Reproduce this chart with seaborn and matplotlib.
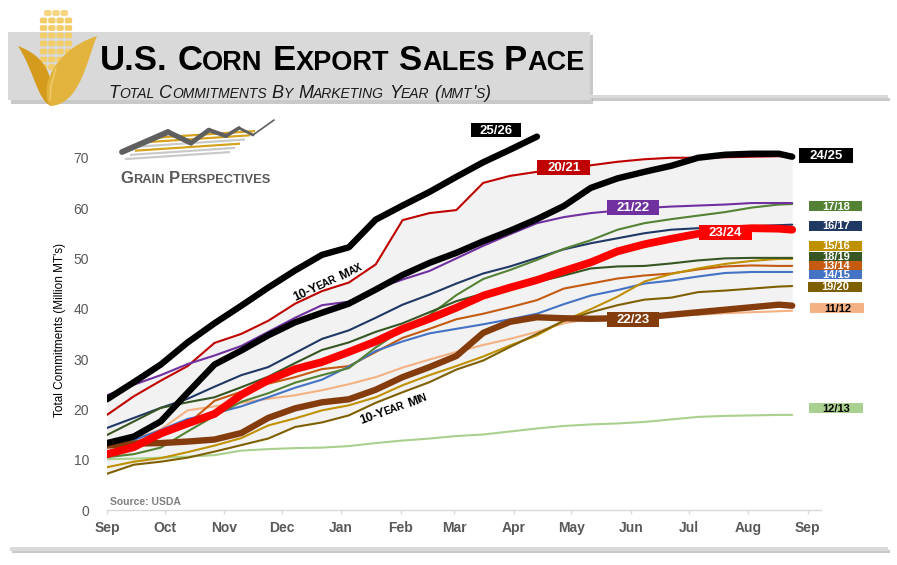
import numpy as np
import pandas as pd
import matplotlib
matplotlib.use("Agg")
import matplotlib.pyplot as plt
from matplotlib.patches import Rectangle, PathPatch, Polygon, FancyBboxPatch
from matplotlib.path import Path
import seaborn as sns

# ---------------- data ----------------
DAYS = [0, 14, 28, 42, 56, 70, 84, 98, 112, 126, 140, 154, 168, 182, 196,
        210, 224, 238, 252, 266, 280, 294, 308, 322, 336, 350, 357]
MONTH_DAYS = [0, 30, 61, 91, 122, 153, 181, 212, 242, 273, 303, 334, 365]
MONTH_LABELS = ["Sep", "Oct", "Nov", "Dec", "Jan", "Feb", "Mar", "Apr",
                "May", "Jun", "Jul", "Aug", "Sep"]
Y_TICKS = [0, 10, 20, 30, 40, 50, 60, 70]

MY_11_12 = [12.5, 14.0, 16.0, 19.8, 20.6, 21.3, 22.1, 22.8, 23.8, 25.0, 26.4, 28.3, 29.9, 31.4,
            32.8, 34.0, 35.4, 37.1, 38.0, 38.2, 38.4, 38.6, 38.8, 39.1, 39.3, 39.5, 39.6]
MY_12_13 = [10.1, 10.2, 10.4, 10.6, 10.9, 11.8, 12.1, 12.3, 12.4, 12.7, 13.3, 13.8, 14.2, 14.7,
            15.0, 15.6, 16.2, 16.7, 17.0, 17.2, 17.5, 18.0, 18.5, 18.7, 18.8, 18.9, 18.9]
MY_13_14 = [12.5, 13.5, 15.0, 17.1, 21.7, 23.5, 25.1, 26.4, 28.0, 28.6, 31.4, 34.2, 36.0, 37.9,
            39.0, 40.3, 41.7, 44.0, 45.0, 46.0, 46.6, 47.0, 47.8, 48.4, 48.6, 48.5, 48.5]
MY_14_15 = [13.5, 13.9, 15.9, 18.1, 19.2, 20.6, 22.4, 24.3, 25.9, 28.5, 31.6, 33.5, 35.1, 36.0,
            36.9, 37.9, 39.0, 40.9, 42.6, 43.7, 45.0, 45.6, 46.4, 47.1, 47.3, 47.3, 47.3]
MY_15_16 = [8.5, 9.6, 10.3, 11.5, 12.8, 14.3, 16.8, 18.2, 19.8, 20.8, 22.4, 24.8, 26.8, 28.6,
            30.5, 32.7, 34.7, 37.6, 39.9, 42.4, 45.4, 46.9, 48.0, 48.9, 49.5, 49.9, 49.9]
MY_16_17 = [16.3, 18.3, 20.3, 22.1, 24.5, 26.8, 28.4, 31.2, 34.0, 35.7, 38.2, 40.8, 42.8, 45.0,
            47.0, 48.4, 50.1, 51.8, 53.0, 54.0, 55.0, 55.7, 56.0, 56.2, 56.4, 56.6, 56.7]
MY_17_18 = [10.5, 11.1, 12.4, 15.6, 18.7, 21.5, 23.2, 25.3, 26.8, 28.2, 32.3, 35.9, 38.7, 42.7,
            45.9, 47.7, 49.7, 51.9, 53.6, 55.7, 57.0, 57.8, 58.5, 59.2, 60.1, 60.7, 60.8]
MY_18_19 = [14.9, 17.6, 20.3, 21.4, 22.4, 24.4, 26.5, 29.2, 31.8, 33.3, 35.4, 37.1, 39.3, 41.5,
            43.0, 44.1, 45.3, 46.6, 48.0, 48.4, 48.5, 49.0, 49.6, 50.0, 50.1, 50.1, 50.1]
MY_19_20 = [7.2, 9.0, 9.6, 10.4, 11.6, 12.9, 14.2, 16.5, 17.4, 18.8, 21.3, 23.4, 25.4, 27.9,
            29.7, 32.4, 35.0, 37.6, 39.3, 40.7, 41.8, 42.2, 43.3, 43.6, 44.0, 44.4, 44.5]
MY_20_21 = [18.9, 22.6, 25.7, 28.6, 33.2, 35.0, 37.6, 41.0, 43.5, 45.2, 48.8, 57.6, 59.0, 59.6,
            65.0, 66.4, 67.2, 67.8, 68.5, 69.2, 69.7, 70.0, 70.0, 70.1, 70.2, 70.3, 70.3]
MY_21_22 = [22.8, 24.9, 26.8, 29.0, 30.7, 32.6, 35.4, 38.2, 40.7, 41.4, 43.9, 45.8, 47.5, 50.0,
            52.5, 54.8, 57.0, 58.2, 59.0, 59.5, 60.0, 60.3, 60.5, 60.7, 61.0, 61.0, 61.0]
MY_22_23 = [12.8, 13.2, 13.3, 13.6, 14.0, 15.3, 18.3, 20.2, 21.4, 22.0, 23.9, 26.4, 28.4, 30.6,
            35.2, 37.4, 38.3, 38.1, 38.0, 38.1, 38.3, 38.8, 39.3, 39.8, 40.3, 40.8, 40.6]
MY_23_24 = [11.1, 12.5, 15.2, 17.2, 19.1, 22.9, 25.8, 28.0, 29.4, 31.4, 33.5, 36.0, 38.0, 40.2,
            42.6, 44.2, 45.7, 47.5, 49.2, 51.4, 52.8, 53.9, 54.9, 55.7, 56.0, 55.9, 55.7]
MY_24_25 = [13.3, 14.6, 17.6, 23.3, 28.9, 31.7, 34.7, 37.3, 39.2, 41.0, 43.8, 46.7, 49.1, 51.1,
            53.4, 55.5, 57.8, 60.4, 64.0, 65.9, 67.2, 68.4, 70.0, 70.6, 70.8, 70.8, 70.2]
MY_25_26 = [22.0, 25.4, 28.9, 33.3, 37.1, 40.6, 44.2, 47.6, 50.7, 52.2, 57.7, 60.5, 63.2, 66.2,
            69.1, 71.6, 74.2]

YEARS = ["11/12", "12/13", "13/14", "14/15", "15/16", "16/17", "17/18", "18/19",
         "19/20", "20/21", "21/22", "22/23", "23/24", "24/25", "25/26"]
VALUES = [MY_11_12, MY_12_13, MY_13_14, MY_14_15, MY_15_16, MY_16_17, MY_17_18, MY_18_19,
          MY_19_20, MY_20_21, MY_21_22, MY_22_23, MY_23_24, MY_24_25, MY_25_26]
TEN_YEAR = ["15/16", "16/17", "17/18", "18/19", "19/20", "20/21", "21/22", "22/23", "23/24", "24/25"]

# ---------------- styles ----------------
COLORS = {"11/12": "#f4b183", "12/13": "#a9d08e", "13/14": "#c55a11", "14/15": "#4472c4",
          "15/16": "#bf9000", "16/17": "#1f3864", "17/18": "#548235", "18/19": "#375623",
          "19/20": "#7f6000", "20/21": "#c00000", "21/22": "#7030a0", "22/23": "#843c0c",
          "23/24": "#ff0000", "24/25": "#000000", "25/26": "#000000"}
WIDTHS = {"22/23": 4.6, "23/24": 5.6, "24/25": 4.6, "25/26": 4.6}
ZORD = {"22/23": 4, "23/24": 4.5, "24/25": 5, "25/26": 6}

W, H = 897, 565
sns.set_theme(style="white")
plt.rcParams["font.family"] = ["Liberation Sans", "DejaVu Sans"]

fig = plt.figure(figsize=(W / 100, H / 100), dpi=100, facecolor="white")
ax = fig.add_axes([107 / W, 55 / H, 714 / W, 390 / H])
ax.set_facecolor("white")

rows = []
for name, vals in zip(YEARS, VALUES):
    for d, v in zip(DAYS, vals):
        rows.append((name, d, v))
df = pd.DataFrame(rows, columns=["year", "day", "mmt"])

# 10-year range shading
wide = df[df.year.isin(TEN_YEAR)].pivot(index="day", columns="year", values="mmt")
ax.fill_between(wide.index, wide.min(axis=1), wide.max(axis=1), color="#f2f2f2", lw=0, zorder=0.5)

for name in YEARS:
    sub = df[df.year == name]
    sns.lineplot(data=sub, x="day", y="mmt", ax=ax, color=COLORS[name],
                 linewidth=WIDTHS.get(name, 1.5), zorder=ZORD.get(name, 2),
                 solid_capstyle="round", solid_joinstyle="round", estimator=None, legend=False)

ax.set_xlim(0, 372)
ax.set_ylim(0, 77.5)
ax.set_xticks(MONTH_DAYS)
ax.set_xticklabels(MONTH_LABELS, fontsize=10, fontweight="bold", color="#595959")
ax.set_yticks(Y_TICKS)
ax.set_yticklabels([str(t) for t in Y_TICKS], fontsize=10, color="#595959")
ax.tick_params(axis="x", direction="out", length=3, width=1, color="#d9d9d9", pad=5, bottom=True)
ax.tick_params(axis="y", length=0, pad=13)
for s in ["top", "right", "left"]:
    ax.spines[s].set_visible(False)
ax.spines["bottom"].set_color("#d9d9d9")
ax.spines["bottom"].set_linewidth(1)
ax.set_xlabel("")
ax.set_ylabel("")
ax.grid(False)

# ---------------- overlay (pixel coordinates) ----------------
ov = fig.add_axes([0, 0, 1, 1])
ov.set_xlim(0, W)
ov.set_ylim(H, 0)
ov.axis("off")
ov.set_zorder(10)
renderer = fig.canvas.get_renderer()


def to_px(xd, yv):
    X, Y = ax.transData.transform((xd, yv))
    return X, H - Y


def measure(s, fs, **kw):
    t = ov.text(0, 0, s, fontsize=fs, **kw)
    w = t.get_window_extent(renderer).width
    t.remove()
    return w


def smallcaps(x, y, text, big, small, angle=0.0, center=False, **kw):
    th = np.deg2rad(angle)
    ux, uy = np.cos(th), -np.sin(th)
    words = []
    for w in text.split(" "):
        runs = []
        for ch in w:
            sm = ch.islower()
            if runs and runs[-1][1] == sm:
                runs[-1][0] += ch.upper()
            else:
                runs.append([ch.upper(), sm])
        words.append(runs)
    space = big * 100 / 72 * 0.278
    widths = [[measure(s, small if sm else big, **kw) for s, sm in runs] for runs in words]
    total = sum(sum(ws) for ws in widths) + space * (len(words) - 1)
    if center:
        x -= ux * total / 2
        y -= uy * total / 2
        off = 0.36 * big * 100 / 72
        x += np.sin(th) * off
        y += np.cos(th) * off
    cx, cy = x, y
    for i, (runs, ws) in enumerate(zip(words, widths)):
        if i:
            cx += ux * space
            cy += uy * space
        for (s, sm), w in zip(runs, ws):
            ov.text(cx, cy, s, fontsize=small if sm else big, rotation=angle,
                    rotation_mode="anchor", ha="left", va="baseline", **kw)
            cx += ux * w
            cy += uy * w
    return total


# header bar
ov.add_patch(Rectangle((11, 35), 582, 68.5, fc="#a6a6a6", ec="none", alpha=0.6))
ov.add_patch(Rectangle((8, 32), 582, 68, fc="#d9d9d9", ec="none"))
ov.add_patch(Rectangle((592, 97.5), 298, 3, fc="#b3b3b3", ec="none", alpha=0.7))
ov.add_patch(Rectangle((590, 95), 298, 3, fc="#d9d9d9", ec="none"))
# bottom bar
ov.add_patch(Rectangle((12, 549.5), 878, 3.5, fc="#b3b3b3", ec="none", alpha=0.7))
ov.add_patch(Rectangle((10, 547), 878, 3.5, fc="#d9d9d9", ec="none"))

# corn icon
for cy_, n in [(13, 3), (20.5, 4), (28, 4), (35.5, 4), (43.5, 4), (51.5, 4), (59.5, 4), (67, 4)]:
    for k in range(n):
        cx_ = 56 + (k - (n - 1) / 2) * 8.3
        ov.add_patch(FancyBboxPatch((cx_ - 3.2, cy_ - 2.4), 6.4, 4.8,
                                    boxstyle="round,pad=0.5,rounding_size=1.8",
                                    fc="#f2cd6c" if cy_ > 15 else "#f5d580", ec="none"))
left_leaf = Path([(51, 106), (37, 100), (34, 70), (18, 46), (34, 52), (47, 62), (51, 82), (51, 106)],
                 [Path.MOVETO, Path.CURVE4, Path.CURVE4, Path.CURVE4, Path.CURVE4, Path.CURVE4,
                  Path.CURVE4, Path.CLOSEPOLY])
right_leaf = Path([(51, 106), (80, 104), (87, 60), (97, 36), (72, 44), (52, 62), (47, 85),
                   (46, 96), (47, 103), (51, 106)],
                  [Path.MOVETO, Path.CURVE4, Path.CURVE4, Path.CURVE4, Path.CURVE4, Path.CURVE4,
                   Path.CURVE4, Path.CURVE4, Path.CURVE4, Path.CURVE4])
ov.add_patch(PathPatch(left_leaf, fc="#d49b1d", ec="none"))
ov.add_patch(PathPatch(right_leaf, fc="#e3b43d", ec="none"))
ov.plot([50, 51, 56], [100, 86, 68], color="#f3d37e", lw=1.0, alpha=0.8, solid_capstyle="round")

# title & subtitle
smallcaps(100, 70, "U.S. Corn Export Sales Pace", 25, 19.5, weight="bold", color="black")
smallcaps(108, 98, "Total Commitments By Marketing Year (mmt's)", 13, 10,
          style="italic", color="#1a1a1a")

# Grain Perspectives logo
for k, col in enumerate(["#d6a21e", "#d6a21e", "#c9c9c9", "#d6a21e", "#c9c9c9", "#c9c9c9"]):
    y0 = 137 + k * 4.2
    x0 = 150 - k * 5
    ov.add_patch(Polygon([(x0, y0), (x0 + 105, y0 - 7), (x0 + 105, y0 - 4.8), (x0, y0 + 2.2)],
                         closed=True, fc=col, ec="none"))
zig = [(122, 152), (168, 132), (191, 143), (209, 130), (226, 136), (239, 128), (253, 135), (274, 120)]
zw = [4.2, 3.8, 3.4, 3.0, 2.6, 2.0, 1.2]
for i in range(len(zig) - 1):
    ov.plot([zig[i][0], zig[i + 1][0]], [zig[i][1], zig[i + 1][1]], color="#5f5f5f",
            lw=zw[i], solid_capstyle="round")
smallcaps(120, 183, "Grain Perspectives", 12, 9.3, weight="bold", color="#595959")

# axis title and source
ov.text(60, 330, "Total Commitments (Million MT's)", rotation=90, ha="center", va="center",
        fontsize=8.5, color="black")
ov.text(110, 502, "Source: USDA", ha="left", va="center", fontsize=7.5, fontweight="bold",
        color="#7f7f7f")

# 10-year labels
mx, my = to_px(114.6, 45.5)
smallcaps(mx, my, "10-Year Max", 9, 7.2, angle=25, center=True, weight="bold", color="black")
nx, ny = to_px(149, 20.3)
smallcaps(nx, ny, "10-Year Min", 9, 7.2, angle=19.5, center=True, weight="bold", color="black")

# series tags: (text, day, value, face, text colour, width px, height px, font size)
TAGS = [("25/26", 202.6, 75.5, "#000000", "white", 50, 14, 9.5),
        ("20/21", 238.0, 68.0, "#c00000", "white", 53, 15, 9.5),
        ("21/22", 274.0, 60.2, "#7030a0", "white", 52, 15, 9.5),
        ("23/24", 322.0, 55.1, "#ff0000", "white", 53, 15, 9.5),
        ("22/23", 274.0, 37.8, "#843c0c", "white", 52, 15, 9.5),
        ("24/25", 374.5, 70.4, "#000000", "white", 54, 15, 9.5),
        ("17/18", 379.7, 60.4, "#548235", "white", 53, 10, 8),
        ("16/17", 379.7, 56.5, "#1f3864", "white", 53, 10, 8),
        ("15/16", 379.7, 52.5, "#bf9000", "white", 53, 10, 8),
        ("18/19", 379.7, 50.3, "#375623", "white", 53, 9, 8),
        ("13/14", 379.7, 48.6, "#c55a11", "white", 53, 9, 8),
        ("14/15", 379.7, 46.7, "#4472c4", "white", 53, 9, 8),
        ("19/20", 379.5, 44.4, "#7f6000", "white", 54, 10, 8),
        ("11/12", 380.5, 40.1, "#f4b183", "black", 54, 10, 8),
        ("12/13", 380.0, 20.2, "#a9d08e", "black", 54, 10, 8)]
for text, xd, yv, fc, tc, wpx, hpx, fs in TAGS:
    px, py = to_px(xd, yv)
    ov.add_patch(Rectangle((px - wpx / 2, py - hpx / 2), wpx, hpx, fc=fc, ec="none"))
    ov.text(px, py + 0.5, text, ha="center", va="center", fontsize=fs, fontweight="bold", color=tc)

fig.savefig("out.png", dpi=100, facecolor="white")
